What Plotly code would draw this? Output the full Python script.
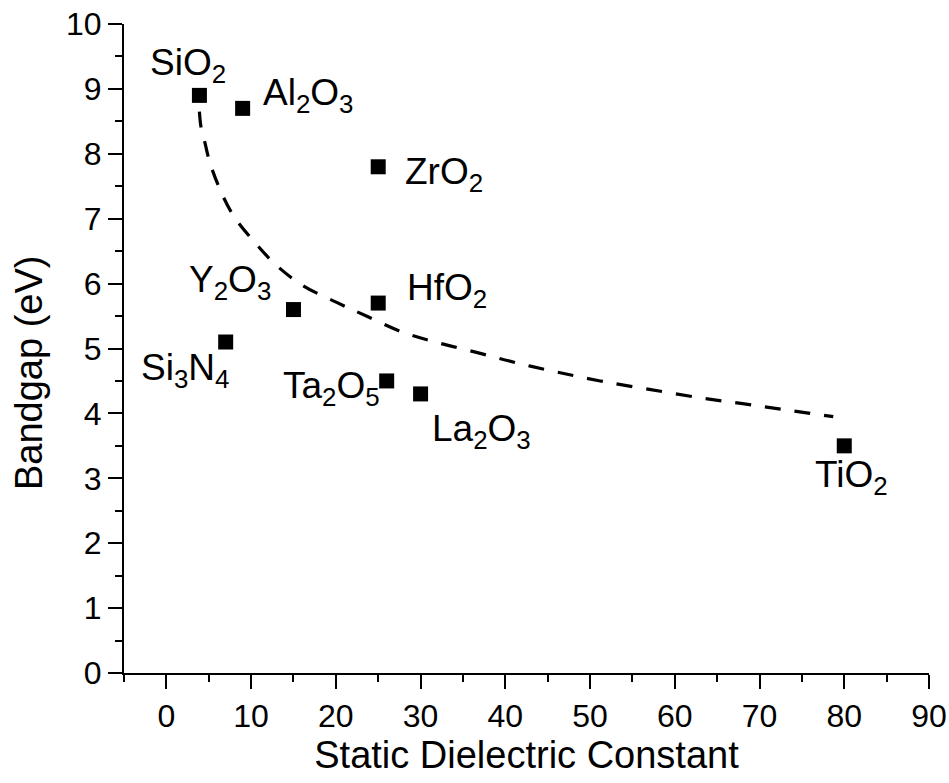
import plotly.graph_objects as go

# Data points (static dielectric constant, bandgap eV)
materials = ["SiO<sub>2</sub>", "Al<sub>2</sub>O<sub>3</sub>", "ZrO<sub>2</sub>", "HfO<sub>2</sub>",
             "Y<sub>2</sub>O<sub>3</sub>", "Si<sub>3</sub>N<sub>4</sub>", "Ta<sub>2</sub>O<sub>5</sub>",
             "La<sub>2</sub>O<sub>3</sub>", "TiO<sub>2</sub>"]
k_values = [3.9, 9, 25, 25, 15, 7, 26, 30, 80]
gap_values = [8.9, 8.7, 7.8, 5.7, 5.6, 5.1, 4.5, 4.3, 3.5]

# Dashed trend curve
curve_k = [3.9, 4.1, 4.5, 5.1, 6.3, 7.9, 10.4, 13, 16.1, 20.1, 23.6, 27.9, 32, 36.6,
           41.3, 46, 51.2, 57, 63, 68, 72.8, 78.7]
curve_gap = [8.65, 8.4, 8.2, 7.88, 7.46, 7.05, 6.64, 6.28, 5.97, 5.71, 5.5, 5.25, 5.09, 4.94,
             4.78, 4.64, 4.5, 4.37, 4.24, 4.15, 4.06, 3.95]

x_title = "Static Dielectric Constant"
y_title = "Bandgap (eV)"

# label placement (style): xanchor, xshift, yshift
label_style = [
    ("center", -11, 30),
    ("left", 18, 13),
    ("left", 25, -7),
    ("left", 27, 13),
    ("right", -20, 28),
    ("right", 5, -28),
    ("right", -5, -7),
    ("left", 9, -37),
    ("center", 7, -31),
]

FONT = "Liberation Sans, Arial, sans-serif"

fig = go.Figure()
fig.add_trace(go.Scatter(x=curve_k, y=curve_gap, mode="lines",
                         line=dict(color="black", width=3.2, dash="16px,14px", shape="spline"),
                         hoverinfo="skip", showlegend=False))
fig.add_trace(go.Scatter(x=k_values, y=gap_values, mode="markers",
                         marker=dict(symbol="square", size=15, color="black"),
                         showlegend=False))

for name, kx, gy, (xa, xs, ys) in zip(materials, k_values, gap_values, label_style):
    fig.add_annotation(x=kx, y=gy, text=name, showarrow=False, xanchor=xa, yanchor="middle",
                       xshift=xs, yshift=ys, font=dict(family=FONT, size=37, color="black"))

# y-axis title (placed slightly below centre, as in the reference)
fig.add_annotation(xref="paper", yref="paper", x=(29 - 124) / 805, y=(672.7 - 373) / 648.4,
                   text=y_title, textangle=-90, showarrow=False, xanchor="center",
                   yanchor="middle", font=dict(family=FONT, size=38, color="black"))

axis_common = dict(showline=True, linecolor="black", linewidth=2, ticks="outside",
                   ticklen=14, tickwidth=2, tickcolor="black", showgrid=False, zeroline=False,
                   tickfont=dict(family=FONT, size=32, color="black"),
                   title_font=dict(family=FONT, size=38, color="black"))

fig.update_xaxes(range=[-5, 90], dtick=10, tick0=0,
                 minor=dict(dtick=5, ticklen=7, tickwidth=2, tickcolor="black", ticks="outside"),
                 title_text=x_title, title_standoff=6, **axis_common)
fig.update_yaxes(range=[0, 10], dtick=1, tick0=0,
                 minor=dict(dtick=0.5, ticklen=7, tickwidth=2, tickcolor="black", ticks="outside"),
                 **axis_common)

fig.update_layout(width=949, height=783, plot_bgcolor="white", paper_bgcolor="white",
                  margin=dict(l=124, r=20, t=24, b=110, autoexpand=False))

fig.write_html("out.html")
